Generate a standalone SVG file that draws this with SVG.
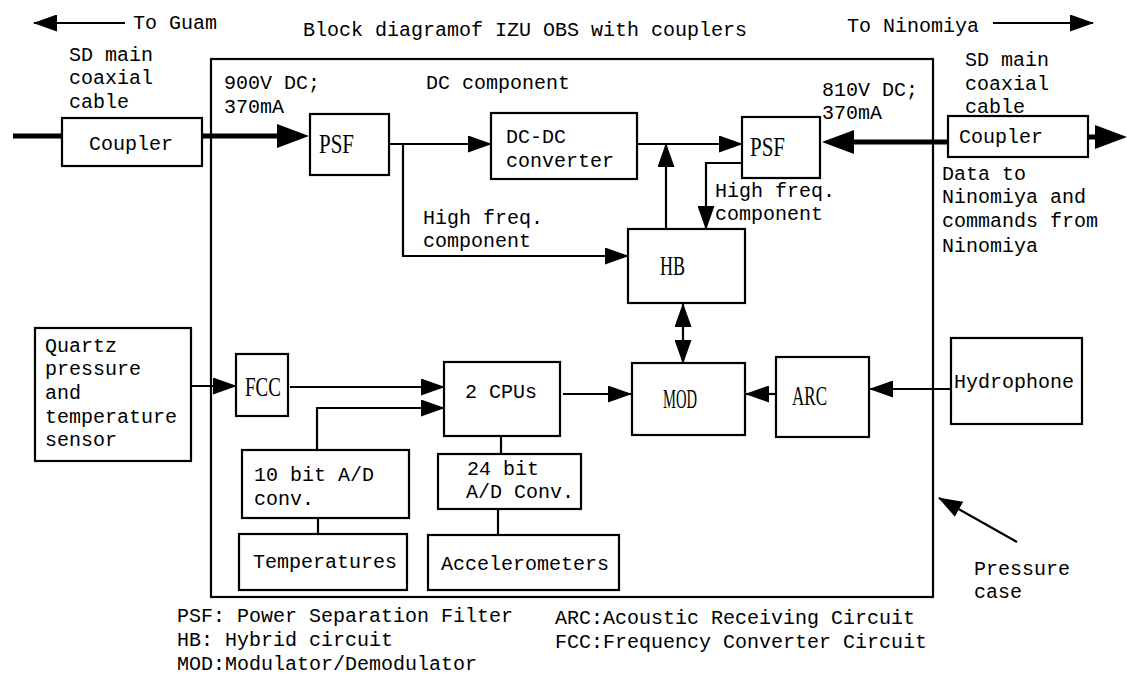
<svg xmlns="http://www.w3.org/2000/svg" width="1127" height="675" viewBox="0 0 1127 675">
<style>
.t{font-family:"Liberation Mono",monospace;font-size:20px;fill:#000}
.a{font-family:"Liberation Serif",serif;font-size:27px;fill:#000}
.box{fill:#fff;stroke:#000;stroke-width:2.2}
.case{fill:none;stroke:#000;stroke-width:2.2}
.ln{fill:none;stroke:#000;stroke-width:2.2}
.thick{fill:none;stroke:#000;stroke-width:5}
</style>
<defs>
<marker id="arr" viewBox="0 0 24 17" refX="23" refY="8.5" markerWidth="24" markerHeight="17" markerUnits="userSpaceOnUse" orient="auto-start-reverse">
<path d="M0,0 L24,8.5 L0,17 z" fill="#000"/>
</marker>
<marker id="big" viewBox="0 0 32 24" refX="2" refY="12" markerWidth="32" markerHeight="24" markerUnits="userSpaceOnUse" orient="auto">
<path d="M0,0 L32,12 L0,24 z" fill="#000"/>
</marker>
</defs>
<rect width="1127" height="675" fill="#fff"/>

<g id="title">
<text class="t" x="303" y="36">Block diagramof IZU OBS with couplers</text>
<text class="t" x="133" y="29">To Guam</text>
<text class="t" x="847" y="32">To Ninomiya</text>
</g>

<g id="pressure-case">
<rect class="case" x="211" y="59" width="722" height="538"/>
<text class="t" x="974" y="575">Pressure</text>
<text class="t" x="974" y="598">case</text>
</g>

<g id="labels">
<text class="t" x="69" y="61">SD main</text>
<text class="t" x="69" y="84">coaxial</text>
<text class="t" x="69" y="108">cable</text>
<text class="t" x="224" y="89">900V DC;</text>
<text class="t" x="224" y="113">370mA</text>
<text class="t" x="426" y="89">DC component</text>
<text class="t" x="423" y="224">High freq.</text>
<text class="t" x="423" y="247">component</text>
<text class="t" x="715" y="197">High freq.</text>
<text class="t" x="715" y="220">component</text>
<text class="t" x="822" y="96">810V DC;</text>
<text class="t" x="822" y="119">370mA</text>
<text class="t" x="965" y="66">SD main</text>
<text class="t" x="965" y="90">coaxial</text>
<text class="t" x="965" y="113">cable</text>
<text class="t" x="942" y="180">Data to</text>
<text class="t" x="942" y="203">Ninomiya and</text>
<text class="t" x="942" y="227">commands from</text>
<text class="t" x="942" y="252">Ninomiya</text>
</g>

<g id="connectors">
<line class="ln" x1="125" y1="23" x2="34" y2="23" marker-end="url(#arr)"/>
<line class="ln" x1="993" y1="23" x2="1093" y2="23" marker-end="url(#arr)"/>
<line class="thick" x1="13" y1="136" x2="62" y2="136"/>
<line class="thick" x1="202" y1="136" x2="279" y2="136" marker-end="url(#big)"/>
<line class="thick" x1="948" y1="142" x2="852" y2="142" marker-end="url(#big)"/>
<line class="thick" x1="1088" y1="137" x2="1097" y2="137" marker-end="url(#big)"/>
<line class="ln" x1="389" y1="144" x2="491" y2="144" marker-end="url(#arr)"/>
<polyline class="ln" points="403,144 403,256 628,256" marker-end="url(#arr)"/>
<line class="ln" x1="637" y1="144" x2="742" y2="144" marker-end="url(#arr)"/>
<line class="ln" x1="666" y1="229" x2="666" y2="144" marker-end="url(#arr)"/>
<polyline class="ln" points="742,163 706,163 706,229" marker-end="url(#arr)"/>
<line class="ln" x1="683" y1="304" x2="683" y2="363" marker-start="url(#arr)" marker-end="url(#arr)"/>
<line class="ln" x1="191" y1="386" x2="236" y2="386" marker-end="url(#arr)"/>
<line class="ln" x1="290" y1="387" x2="444" y2="387" marker-end="url(#arr)"/>
<polyline class="ln" points="317,450 317,408 444,408" marker-end="url(#arr)"/>
<line class="ln" x1="563" y1="394" x2="631" y2="394" marker-end="url(#arr)"/>
<line class="ln" x1="776" y1="394" x2="746" y2="394" marker-end="url(#arr)"/>
<line class="ln" x1="951" y1="389" x2="870" y2="389" marker-end="url(#arr)"/>
<line class="ln" x1="501" y1="436" x2="501" y2="454"/>
<line class="ln" x1="318" y1="518" x2="318" y2="534"/>
<line class="ln" x1="498" y1="509" x2="498" y2="535"/>
<line class="ln" x1="1017" y1="542" x2="939" y2="498" marker-end="url(#arr)"/>
</g>

<g id="coupler-left">
<rect class="box" x="62" y="118" width="140" height="48"/>
<text class="t" x="89" y="150">Coupler</text>
</g>
<g id="psf-left">
<rect class="box" x="310" y="114" width="79" height="61"/>
<text class="a" x="319" y="153" textLength="35" lengthAdjust="spacingAndGlyphs">PSF</text>
</g>
<g id="dcdc">
<rect class="box" x="491" y="113" width="146" height="66"/>
<text class="t" x="506" y="143">DC-DC</text>
<text class="t" x="506" y="167">converter</text>
</g>
<g id="psf-right">
<rect class="box" x="742" y="117" width="78" height="61"/>
<text class="a" x="750" y="156" textLength="35" lengthAdjust="spacingAndGlyphs">PSF</text>
</g>
<g id="coupler-right">
<rect class="box" x="948" y="116" width="140" height="41"/>
<text class="t" x="959" y="143">Coupler</text>
</g>
<g id="hb">
<rect class="box" x="628" y="229" width="117" height="74"/>
<text class="a" x="660" y="275" textLength="25" lengthAdjust="spacingAndGlyphs">HB</text>
</g>
<g id="quartz">
<rect class="box" x="35" y="328" width="156" height="133"/>
<text class="t" x="45" y="352">Quartz</text>
<text class="t" x="45" y="375">pressure</text>
<text class="t" x="45" y="399">and</text>
<text class="t" x="45" y="423">temperature</text>
<text class="t" x="45" y="446">sensor</text>
</g>
<g id="fcc">
<rect class="box" x="236" y="354" width="52" height="62"/>
<text class="a" x="245" y="396" textLength="36" lengthAdjust="spacingAndGlyphs">FCC</text>
</g>
<g id="cpus">
<rect class="box" x="444" y="362" width="116" height="74"/>
<text class="t" x="465" y="398">2 CPUs</text>
</g>
<g id="mod">
<rect class="box" x="632" y="363" width="113" height="72"/>
<text class="a" x="663" y="408" textLength="34" lengthAdjust="spacingAndGlyphs">MOD</text>
</g>
<g id="arc">
<rect class="box" x="776" y="357" width="93" height="80"/>
<text class="a" x="792" y="405" textLength="35" lengthAdjust="spacingAndGlyphs">ARC</text>
</g>
<g id="hydrophone">
<rect class="box" x="951" y="338" width="131" height="86"/>
<text class="t" x="954" y="388">Hydrophone</text>
</g>
<g id="adc10">
<rect class="box" x="242" y="450" width="167" height="68"/>
<text class="t" x="254" y="481">10 bit A/D</text>
<text class="t" x="254" y="505">conv.</text>
</g>
<g id="adc24">
<rect class="box" x="438" y="454" width="143" height="55"/>
<text class="t" x="467" y="475">24 bit</text>
<text class="t" x="466" y="498">A/D Conv.</text>
</g>
<g id="temperatures">
<rect class="box" x="239" y="534" width="168" height="56"/>
<text class="t" x="253" y="568">Temperatures</text>
</g>
<g id="accelerometers">
<rect class="box" x="428" y="535" width="191" height="55"/>
<text class="t" x="441" y="570">Accelerometers</text>
</g>

<g id="legend">
<text class="t" x="177" y="622">PSF: Power Separation Filter</text>
<text class="t" x="177" y="646">HB: Hybrid circuit</text>
<text class="t" x="177" y="670">MOD:Modulator/Demodulator</text>
<text class="t" x="555" y="624">ARC:Acoustic Receiving Circuit</text>
<text class="t" x="555" y="648">FCC:Frequency Converter Circuit</text>
</g>
</svg>
